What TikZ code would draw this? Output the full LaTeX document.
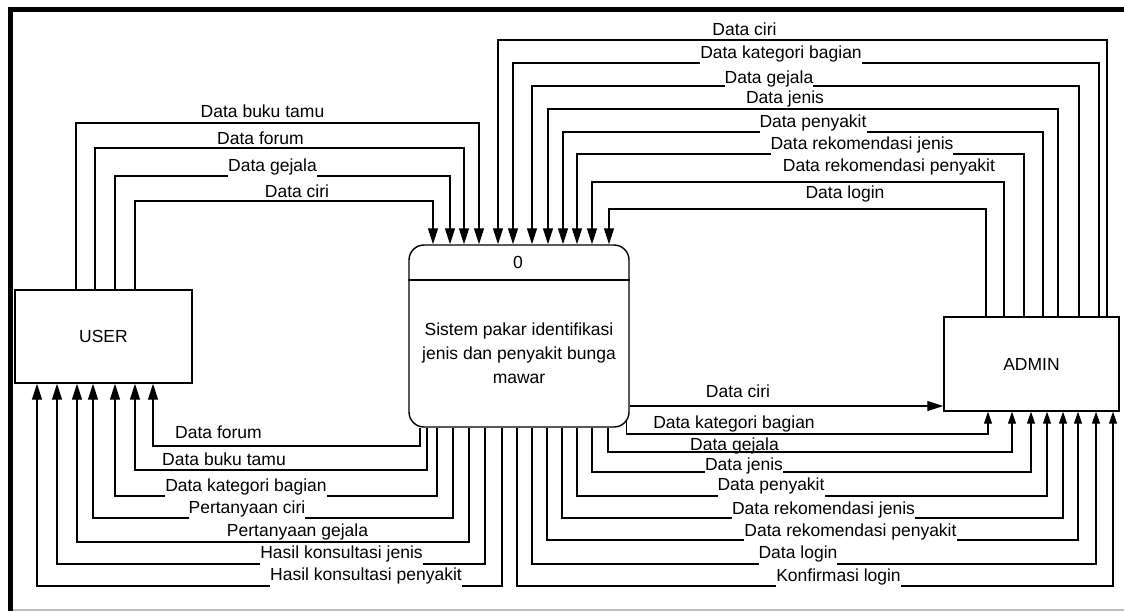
\documentclass[tikz,border=0pt]{standalone}
\usepackage{fontspec}
\setmainfont{Liberation Sans}
\usetikzlibrary{arrows.meta}

\begin{document}
\begin{tikzpicture}[x=1pt, y=-1pt,
  font=\fontsize{17.5}{24}\selectfont,
  flow/.style={line width=1.2pt, -{Triangle[length=16pt,width=10pt]}},
  flowup/.style={line width=1.2pt, -{Triangle[length=12pt,width=8pt]}},
  box/.style={draw, line width=1.4pt, inner sep=0pt},
  lbl/.style={inner sep=0pt, anchor=base, text height=12pt, text depth=4pt},
  cut/.style={lbl, fill=white, inner ysep=3pt}]
\useasboundingbox (0,0) rectangle (1124,611);
\draw[line width=5pt] (10,611) -- (10,9.5) -- (1124,9.5);
\draw[black!25, line width=1.5pt] (12.5,610) -- (1124,610);

\node[box, minimum width=177pt, minimum height=93pt] (user) at (103.5,336.5) {USER};
\node[box, minimum width=220pt, minimum height=182pt, rounded corners=15pt] (proc) at (519,336) {};
\node[box, minimum width=175pt, minimum height=94pt] (admin) at (1031.5,364) {ADMIN};
\draw[line width=1.4pt] (proc.west |- 0,280) -- (proc.east |- 0,280);
\node[lbl] (pid) at (518,268) {0};
\node[align=center] (pname) at (519,353) {Sistem pakar identifikasi\\jenis dan penyakit bunga\\mawar};

\draw[flow] (user.north -| 76,0) |- (479,123) -- (proc.north -| 479,0);
\draw[flow] (user.north -| 95,0) |- (464,148) -- (proc.north -| 464,0);
\draw[flow] (user.north -| 115,0) |- (450,176) -- (proc.north -| 450,0);
\draw[flow] (user.north -| 135,0) |- (433,201) -- (proc.north -| 433,0);

\draw[flow] (admin.north -| 1107,0) |- (498,40) -- (proc.north -| 498,0);
\draw[flow] (admin.north -| 1099,0) |- (513,63) -- (proc.north -| 513,0);
\draw[flow] (admin.north -| 1079,0) |- (532,86) -- (proc.north -| 532,0);
\draw[flow] (admin.north -| 1058,0) |- (548,109) -- (proc.north -| 548,0);
\draw[flow] (admin.north -| 1043,0) |- (563,132) -- (proc.north -| 563,0);
\draw[flow] (admin.north -| 1024,0) |- (577,154) -- (proc.north -| 577,0);
\draw[flow] (admin.north -| 1004,0) |- (592,182) -- (proc.north -| 592,0);
\draw[flow] (admin.north -| 986,0) |- (609,209) -- (proc.north -| 609,0);

\draw[flow] (proc.south -| 420,0) |- (153,446) -- (user.south -| 153,0);
\draw[flow] (proc.south -| 427,0) |- (135,470) -- (user.south -| 135,0);
\draw[flow] (proc.south -| 437,0) |- (115,496) -- (user.south -| 115,0);
\draw[flow] (proc.south -| 453,0) |- (93,518) -- (user.south -| 93,0);
\draw[flow] (proc.south -| 469,0) |- (77,542) -- (user.south -| 77,0);
\draw[flow] (proc.south -| 485,0) |- (57,564) -- (user.south -| 57,0);
\draw[flow] (proc.south -| 502,0) |- (37,586) -- (user.south -| 37,0);

\draw[flow] (proc.east |- 0,406) -- (admin.west |- 0,406);
\draw[flowup] ([xshift=-3pt,yshift=7pt]proc.south east) |- (988,434) -- (admin.south -| 988,0);
\draw[flowup] (proc.south -| 608,0) |- (1012,452) -- (admin.south -| 1012,0);
\draw[flowup] (proc.south -| 592,0) |- (1031,472) -- (admin.south -| 1031,0);
\draw[flowup] (proc.south -| 577,0) |- (1047,496) -- (admin.south -| 1047,0);
\draw[flowup] (proc.south -| 562,0) |- (1063,518) -- (admin.south -| 1063,0);
\draw[flowup] (proc.south -| 547,0) |- (1078,540) -- (admin.south -| 1078,0);
\draw[flowup] (proc.south -| 532,0) |- (1096,564) -- (admin.south -| 1096,0);
\draw[flowup] (proc.south -| 517,0) |- (1113,586) -- (admin.south -| 1113,0);

\node[lbl] (a1) at (262.5,117) {Data buku tamu};
\node[lbl] (a2) at (260.5,144) {Data forum};
\node[cut] (a3) at (272.5,171) {Data gejala};
\node[lbl] (a4) at (297,197) {Data ciri};
\node[lbl] (b1) at (744.5,35) {Data ciri};
\node[cut] (b2) at (781,58) {Data kategori bagian};
\node[cut] (b3) at (769,83) {Data gejala};
\node[lbl] (b4) at (785,103) {Data jenis};
\node[cut] (b5) at (813,127) {Data penyakit};
\node[cut] (b6) at (862,149) {Data rekomendasi jenis};
\node[lbl] (b7) at (889,171) {Data rekomendasi penyakit};
\node[lbl] (b8) at (845,198) {Data login};
\node[lbl] (c1) at (218.5,438) {Data forum};
\node[lbl] (c2) at (224,465) {Data buku tamu};
\node[cut] (c3) at (246,491) {Data kategori bagian};
\node[cut] (c4) at (247,513) {Pertanyaan ciri};
\node[lbl] (c5) at (297.5,536) {Pertanyaan gejala};
\node[cut] (c6) at (341.5,558) {Hasil konsultasi jenis};
\node[cut] (c7) at (366,580) {Hasil konsultasi penyakit};
\node[lbl] (d1) at (738,397) {Data ciri};
\node[lbl] (d2) at (734,428) {Data kategori bagian};
\node[lbl] (d3) at (734.5,450) {Data gejala};
\node[cut] (d4) at (744,470) {Data jenis};
\node[cut] (d5) at (771,490) {Data penyakit};
\node[cut] (d6) at (823.5,514) {Data rekomendasi jenis};
\node[cut] (d7) at (850.5,536) {Data rekomendasi penyakit};
\node[cut] (d8) at (798,558) {Data login};
\node[cut] (d9) at (838.5,581) {Konfirmasi login};
\end{tikzpicture}
\end{document}
